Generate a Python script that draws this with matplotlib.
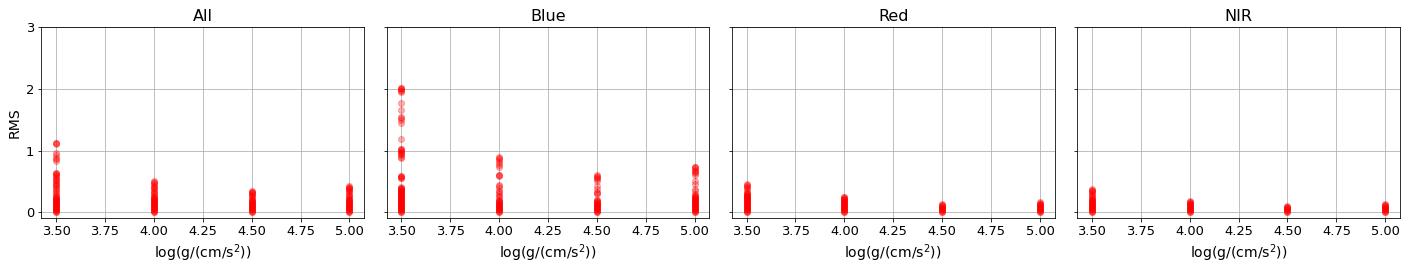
import matplotlib
matplotlib.use("Agg")
import matplotlib.pyplot as plt

panel_titles = ["All", "Blue", "Red", "NIR"]
logg_values = [3.5, 4.0, 4.5, 5.0]

# RMS values per panel, per log g
all_35 = [0.00, 0.01, 0.02, 0.03, 0.04, 0.05, 0.06, 0.07, 0.08, 0.09, 0.10, 0.11, 0.12,
          0.13, 0.14, 0.15, 0.16, 0.17, 0.18, 0.19, 0.20, 0.21, 0.22, 0.23, 0.24, 0.25,
          0.28, 0.30, 0.32, 0.35, 0.37, 0.40, 0.42, 0.44, 0.46, 0.48, 0.50, 0.52, 0.54,
          0.56, 0.58, 0.60, 0.62, 0.63, 0.64, 0.83, 0.86, 0.88, 0.92, 0.96, 1.10, 1.12, 1.13]
all_40 = [0.00, 0.01, 0.02, 0.03, 0.04, 0.05, 0.06, 0.07, 0.08, 0.09, 0.10, 0.11, 0.12,
          0.13, 0.14, 0.15, 0.16, 0.17, 0.18, 0.19, 0.20, 0.21, 0.22, 0.23, 0.24, 0.25,
          0.27, 0.29, 0.31, 0.33, 0.35, 0.37, 0.39, 0.41, 0.43, 0.45, 0.47, 0.49, 0.51]
all_45 = [0.00, 0.01, 0.02, 0.03, 0.04, 0.05, 0.06, 0.07, 0.08, 0.09, 0.10, 0.11, 0.12,
          0.13, 0.14, 0.15, 0.16, 0.17, 0.18, 0.19, 0.20, 0.22, 0.24, 0.26, 0.28, 0.30,
          0.31, 0.32, 0.33, 0.34]
all_50 = [0.00, 0.01, 0.02, 0.03, 0.04, 0.05, 0.06, 0.07, 0.08, 0.09, 0.10, 0.11, 0.12,
          0.13, 0.14, 0.15, 0.16, 0.17, 0.18, 0.19, 0.20, 0.21, 0.22, 0.24, 0.26, 0.28,
          0.30, 0.32, 0.34, 0.36, 0.38, 0.39, 0.40, 0.41, 0.42]

blue_35 = [0.00, 0.01, 0.02, 0.03, 0.04, 0.05, 0.06, 0.07, 0.08, 0.09, 0.10, 0.11, 0.12,
           0.13, 0.14, 0.15, 0.16, 0.17, 0.18, 0.19, 0.20, 0.21, 0.22, 0.23, 0.24, 0.25,
           0.26, 0.27, 0.28, 0.29, 0.30, 0.31, 0.32, 0.33, 0.34, 0.35, 0.36, 0.37, 0.38,
           0.39, 0.40, 0.41, 0.55, 0.56, 0.57, 0.58, 0.59, 0.88, 0.90, 0.92, 0.94, 0.96,
           0.98, 1.00, 1.01, 1.02, 1.03, 1.19, 1.45, 1.50, 1.52, 1.55, 1.65, 1.77, 1.95,
           1.97, 1.98, 2.00, 2.01, 2.02]
blue_40 = [0.00, 0.01, 0.02, 0.03, 0.04, 0.05, 0.06, 0.07, 0.08, 0.09, 0.10, 0.11, 0.12,
           0.13, 0.14, 0.15, 0.16, 0.17, 0.18, 0.19, 0.20, 0.24, 0.27, 0.30, 0.33, 0.35,
           0.40, 0.42, 0.44, 0.59, 0.60, 0.61, 0.74, 0.77, 0.80, 0.83, 0.86, 0.88, 0.90]
blue_45 = [0.00, 0.01, 0.02, 0.03, 0.04, 0.05, 0.06, 0.07, 0.08, 0.09, 0.10, 0.11, 0.12,
           0.13, 0.14, 0.15, 0.16, 0.17, 0.18, 0.19, 0.20, 0.30, 0.31, 0.32, 0.38, 0.42,
           0.50, 0.53, 0.55, 0.57, 0.59, 0.61]
blue_50 = [0.00, 0.01, 0.02, 0.03, 0.04, 0.05, 0.06, 0.07, 0.08, 0.09, 0.10, 0.11, 0.12,
           0.13, 0.14, 0.15, 0.16, 0.17, 0.18, 0.19, 0.20, 0.21, 0.22, 0.23, 0.24, 0.25,
           0.26, 0.28, 0.30, 0.35, 0.38, 0.45, 0.50, 0.60, 0.63, 0.65, 0.67, 0.69, 0.71,
           0.73, 0.74]

red_35 = [0.00, 0.01, 0.02, 0.03, 0.04, 0.05, 0.06, 0.07, 0.08, 0.09, 0.10, 0.11, 0.12,
          0.13, 0.14, 0.15, 0.16, 0.17, 0.18, 0.19, 0.20, 0.21, 0.22, 0.23, 0.24, 0.25,
          0.26, 0.27, 0.28, 0.29, 0.30, 0.31, 0.32, 0.36, 0.39, 0.41, 0.43, 0.44, 0.45]
red_40 = [0.00, 0.01, 0.02, 0.03, 0.04, 0.05, 0.06, 0.07, 0.08, 0.09, 0.10, 0.11, 0.12,
          0.13, 0.14, 0.15, 0.16, 0.17, 0.18, 0.19, 0.20, 0.21, 0.22, 0.23, 0.24, 0.25]
red_45 = [0.00, 0.01, 0.02, 0.03, 0.04, 0.05, 0.06, 0.07, 0.08, 0.09, 0.10, 0.11, 0.12, 0.13]
red_50 = [0.00, 0.01, 0.02, 0.03, 0.04, 0.05, 0.06, 0.07, 0.08, 0.09, 0.10, 0.11, 0.12,
          0.13, 0.14, 0.15, 0.16]

nir_35 = [0.00, 0.01, 0.02, 0.03, 0.04, 0.05, 0.06, 0.07, 0.08, 0.09, 0.10, 0.11, 0.12,
          0.13, 0.14, 0.15, 0.16, 0.17, 0.18, 0.19, 0.20, 0.21, 0.22, 0.24, 0.26, 0.28,
          0.30, 0.32, 0.34, 0.35, 0.36, 0.37]
nir_40 = [0.00, 0.01, 0.02, 0.03, 0.04, 0.05, 0.06, 0.07, 0.08, 0.09, 0.10, 0.11, 0.12,
          0.13, 0.14, 0.15, 0.16, 0.17, 0.18]
nir_45 = [0.00, 0.01, 0.02, 0.03, 0.04, 0.05, 0.06, 0.07, 0.08, 0.09, 0.10]
nir_50 = [0.00, 0.01, 0.02, 0.03, 0.04, 0.05, 0.06, 0.07, 0.08, 0.09, 0.10, 0.11, 0.12, 0.13]

panel_data = [
    [all_35, all_40, all_45, all_50],
    [blue_35, blue_40, blue_45, blue_50],
    [red_35, red_40, red_45, red_50],
    [nir_35, nir_40, nir_45, nir_50],
]

y_ticks = [0, 1, 2, 3]
x_ticks = [3.5, 3.75, 4.0, 4.25, 4.5, 4.75, 5.0]

plt.rcParams["font.size"] = 12
fig, axes = plt.subplots(1, 4, figsize=(1410 / 72, 272 / 72), dpi=72, sharey=True)
fig.subplots_adjust(left=0.0293, right=0.9929, top=0.8996, bottom=0.1974, wspace=0.0697)

for ax, title, groups in zip(axes, panel_titles, panel_data):
    ax.set_axisbelow(True)
    ax.grid(True)
    for xv, ys in zip(logg_values, groups):
        ax.scatter([xv] * len(ys), ys, color="red", alpha=0.3, zorder=2)
    ax.set_title(title, fontsize=16)
    ax.set_xlabel(r"log(g/(cm/s$^2$))", fontsize=14)
    ax.set_xticks(x_ticks)
    ax.tick_params(labelsize=13)

axes[0].set_ylabel("RMS", fontsize=14)
axes[0].set_ylim(-0.1, 3)
axes[0].set_yticks(y_ticks)

fig.savefig("out.png", dpi=72)
